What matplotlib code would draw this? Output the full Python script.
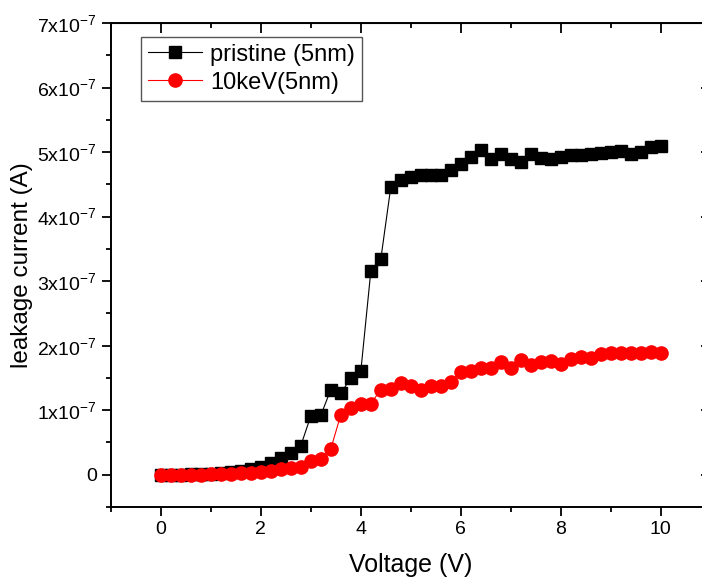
import numpy as np
import matplotlib
matplotlib.use('Agg')
import matplotlib.pyplot as plt
from matplotlib.ticker import MultipleLocator

plt.rcParams['font.family'] = ['Liberation Sans', 'DejaVu Sans']
plt.rcParams['mathtext.default'] = 'regular'

# data (current in units of 1e-7 A)
voltage = [0.0, 0.2, 0.4, 0.6, 0.8, 1.0, 1.2, 1.4, 1.6, 1.8,
           2.0, 2.2, 2.4, 2.6, 2.8, 3.0, 3.2, 3.4, 3.6, 3.8,
           4.0, 4.2, 4.4, 4.6, 4.8, 5.0, 5.2, 5.4, 5.6, 5.8,
           6.0, 6.2, 6.4, 6.6, 6.8, 7.0, 7.2, 7.4, 7.6, 7.8,
           8.0, 8.2, 8.4, 8.6, 8.8, 9.0, 9.2, 9.4, 9.6, 9.8, 10.0]

pristine = [0.0, 0.0, 0.0, 0.005, 0.01, 0.015, 0.03, 0.04, 0.06, 0.09,
            0.12, 0.18, 0.26, 0.34, 0.45, 0.91, 0.92, 1.32, 1.26, 1.50,
            1.60, 3.15, 3.34, 4.46, 4.56, 4.61, 4.64, 4.65, 4.64, 4.72,
            4.81, 4.93, 5.03, 4.90, 4.97, 4.90, 4.85, 4.97, 4.91, 4.89,
            4.93, 4.95, 4.96, 4.97, 4.99, 5.00, 5.02, 4.97, 5.00, 5.08, 5.10]

kev10 = [0.0, 0.0, 0.0, 0.0, 0.0, 0.005, 0.01, 0.01, 0.02, 0.03,
         0.04, 0.06, 0.09, 0.10, 0.12, 0.21, 0.24, 0.40, 0.93, 1.03,
         1.10, 1.10, 1.32, 1.33, 1.42, 1.38, 1.32, 1.38, 1.38, 1.44,
         1.59, 1.61, 1.65, 1.65, 1.74, 1.66, 1.78, 1.70, 1.74, 1.77,
         1.72, 1.80, 1.83, 1.81, 1.87, 1.89, 1.89, 1.89, 1.89, 1.90, 1.89]

yticks = [0, 1, 2, 3, 4, 5, 6, 7]
ytick_labels = ['0'] + ['%dx10$^{-7}$' % k for k in yticks[1:]]
xticks = [0, 2, 4, 6, 8, 10]

scale = 1e-7
V = np.array(voltage)
I1 = np.array(pristine) * scale
I2 = np.array(kev10) * scale

fig = plt.figure(figsize=(7.02, 5.81), dpi=100)
ax = fig.add_axes([110.8/702, 74/581, 600/702, 484/581])

ax.plot(V, I1, '-s', color='black', lw=0.8, ms=8, label='pristine (5nm)')
ax.plot(V, I2, '-o', color='red', lw=0.8, ms=9.5, label='10keV(5nm)')

ax.set_xlim(-1, 11)
ax.set_ylim(-0.5*scale, 7*scale)

ax.set_xticks(xticks)
ax.xaxis.set_minor_locator(MultipleLocator(1))
ax.set_yticks([k*scale for k in yticks])
ax.set_yticklabels(ytick_labels)
ax.yaxis.set_minor_locator(MultipleLocator(0.5*scale))

ax.tick_params(which='major', direction='out', length=6.5, width=1.3, labelsize=14)
ax.tick_params(which='minor', direction='out', length=3.5, width=1.3)
for s in ax.spines.values():
    s.set_linewidth(1.4)

# top / right ticks pointing inward
top = ax.secondary_xaxis('top')
top.set_xticks(xticks)
top.xaxis.set_minor_locator(MultipleLocator(1))
top.tick_params(which='major', direction='in', length=7, width=1.3, labeltop=False)
top.tick_params(which='minor', direction='in', length=3.5, width=1.3)
right = ax.secondary_yaxis('right')
right.set_yticks([k*scale for k in yticks])
right.yaxis.set_minor_locator(MultipleLocator(0.5*scale))
right.tick_params(which='major', direction='in', length=7, width=1.3, labelright=False)
right.tick_params(which='minor', direction='in', length=3.5, width=1.3)

ax.set_xlabel('Voltage (V)', fontsize=18, labelpad=11)
ax.set_ylabel('leakage current (A)', fontsize=17.5, labelpad=3)

leg = ax.legend(loc='upper left', bbox_to_anchor=(0.05, 0.972), borderaxespad=0,
                fontsize=17, fancybox=False, edgecolor='#555555', framealpha=1,
                handlelength=2.3, handletextpad=0.35, borderpad=0.3,
                labelspacing=0.25)
leg.get_frame().set_linewidth(1.0)

plt.savefig('out.png', dpi=100)
